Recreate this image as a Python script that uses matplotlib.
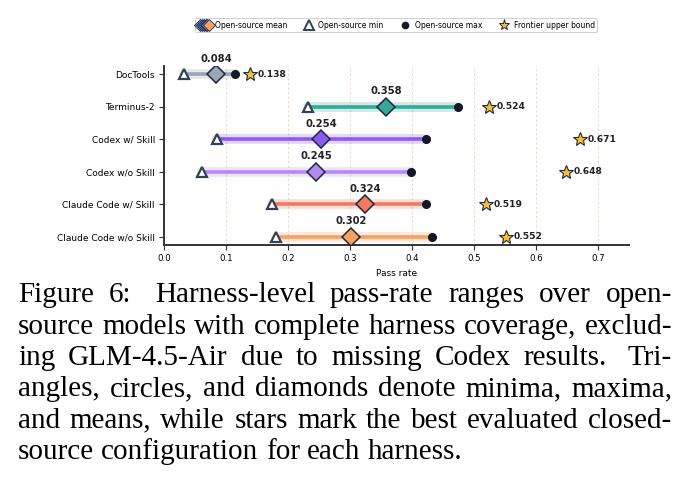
import matplotlib
matplotlib.use("Agg")
import matplotlib.pyplot as plt
from matplotlib.lines import Line2D
from matplotlib.legend_handler import HandlerTuple

# ---------------- data ----------------
harnesses = ["DocTools", "Terminus-2", "Codex w/ Skill", "Codex w/o Skill",
             "Claude Code w/ Skill", "Claude Code w/o Skill"]
os_min = [0.033, 0.233, 0.085, 0.062, 0.175, 0.181]
os_mean = [0.084, 0.358, 0.254, 0.245, 0.324, 0.302]
os_max = [0.114, 0.474, 0.422, 0.399, 0.422, 0.432]
frontier = [0.138, 0.524, 0.671, 0.648, 0.519, 0.552]
colors = ["#9aa6b6", "#35a996", "#8c5cf0", "#b48cf0", "#f07b60", "#f5a262"]
xticks = [0.0, 0.1, 0.2, 0.3, 0.4, 0.5, 0.6, 0.7]

caption_lines = [
    "Figure 6:  Harness-level pass-rate ranges over open-",
    "source models with complete harness coverage, exclud-",
    "ing GLM-4.5-Air due to missing Codex results.  Tri-",
    "angles, circles, and diamonds denote minima, maxima,",
    "and means, while stars mark the best evaluated closed-",
    "source configuration for each harness.",
]

# ---------------- figure ----------------
W, H = 691, 504
fig = plt.figure(figsize=(W / 100, H / 100), dpi=100)
ax = fig.add_axes([164 / W, 1 - 245 / H, (629 - 164) / W, (245 - 66) / H])

dark = "#1e293b"
for i, name in enumerate(harnesses):
    c = colors[i]
    ax.plot([os_min[i], os_max[i]], [i, i], color=c, lw=7, alpha=0.25,
            solid_capstyle="round", zorder=2)
    ax.plot([os_min[i], os_max[i]], [i, i], color=c, lw=2.6,
            solid_capstyle="butt", zorder=3)
    ax.plot(os_min[i], i, marker="^", ms=7.5, mfc="white", mec="#334155",
            mew=1.6, ls="none", zorder=5)
    ax.plot(os_max[i], i, marker="o", ms=5.5, mfc="#111827", mec="#111827",
            ls="none", zorder=5)
    ax.plot(os_mean[i], i, marker="D", ms=9, mfc=c, mec=dark, mew=1.1,
            ls="none", zorder=6)
    ax.plot(frontier[i], i, marker="*", ms=10, mfc="#f2c230", mec=dark,
            mew=0.8, ls="none", zorder=6)
    ax.annotate(f"{os_mean[i]:.3f}", (os_mean[i], i), xytext=(0, 7.5),
                textcoords="offset points", ha="center", va="bottom",
                fontsize=7.2, fontweight="bold", color="#222222")
    ax.annotate(f"{frontier[i]:.3f}", (frontier[i], i), xytext=(5.5, 0),
                textcoords="offset points", ha="left", va="center",
                fontsize=6.6, fontweight="bold", color="#222222")

ax.set_xlim(0, 0.75)
ax.set_ylim(len(harnesses) - 1 + 0.26, -0.26)
ax.set_yticks(range(len(harnesses)))
ax.set_yticklabels(harnesses, fontsize=6.5)
ax.set_xticks(xticks)
ax.set_xticklabels([f"{t:.1f}" for t in xticks], fontsize=6.2)
ax.set_xlabel("Pass rate", fontsize=6.5, labelpad=4)
ax.tick_params(axis="both", length=3.5, width=0.8, color="#333333", pad=3)
for s in ["top", "right"]:
    ax.spines[s].set_visible(False)
for s in ["left", "bottom"]:
    ax.spines[s].set_linewidth(1.4)
    ax.spines[s].set_color("#333333")
for t in xticks[1:]:
    ax.axvline(t, color="#e2cfc2", lw=0.6, ls=(0, (2.5, 3)), zorder=0)

# legend
mean_handles = tuple(Line2D([], [], marker="D", ms=6, mfc=c, mec=dark, mew=0.6,
                            ls="none") for c in colors)
h_min = Line2D([], [], marker="^", ms=6.5, mfc="white", mec="#334155", mew=1.4, ls="none")
h_max = Line2D([], [], marker="o", ms=4.5, mfc="#111827", mec="#111827", ls="none")
h_star = Line2D([], [], marker="*", ms=8, mfc="#f2c230", mec=dark, mew=0.7, ls="none")
leg = fig.legend([mean_handles, h_min, h_max, h_star],
                 ["Open-source mean", "Open-source min", "Open-source max",
                  "Frontier upper bound"],
                 handler_map={tuple: HandlerTuple(ndivide=None, pad=-0.6)},
                 loc="center", bbox_to_anchor=(396 / W, 1 - 25 / H), ncol=4,
                 fontsize=5.5, frameon=True, handlelength=2.0, handletextpad=0.3,
                 columnspacing=1.8, borderpad=0.3, fancybox=True)
leg.get_frame().set_linewidth(0.6)
leg.get_frame().set_edgecolor("#bbbbbb")

# caption (justified)
cap_font = dict(family="Liberation Serif", fontsize=21, color="black")
left_px, right_px = 18, 672
baselines = [302, 333.5, 365, 396, 427.5, 459]
fig.canvas.draw()
renderer = fig.canvas.get_renderer()


def text_width(s):
    t = fig.text(0, 0, s, **cap_font)
    w = t.get_window_extent(renderer=renderer).width
    t.remove()
    return w


space_w = text_width("a a") - text_width("aa")
for k, line in enumerate(caption_lines):
    y = 1 - baselines[k] / H
    last = k == len(caption_lines) - 1
    tokens = [w for w in line.split(" ") if w != ""]
    gaps = []
    mult = 0
    seen_first = False
    for r in line.split(" "):
        if r == "":
            mult += 1
            continue
        if seen_first:
            gaps.append(1 + 0.6 * mult)
        seen_first = True
        mult = 0
    widths = [text_width(w) for w in tokens]
    total_words = sum(widths)
    if last:
        gap_unit = space_w
    else:
        gap_unit = (right_px - left_px - total_words) / max(sum(gaps), 1)
    x = left_px
    for n, w in enumerate(tokens):
        fig.text(x / W, y, w, ha="left", va="baseline", **cap_font)
        x += widths[n]
        if n < len(gaps):
            x += gaps[n] * gap_unit

fig.savefig("out.png", dpi=100)
